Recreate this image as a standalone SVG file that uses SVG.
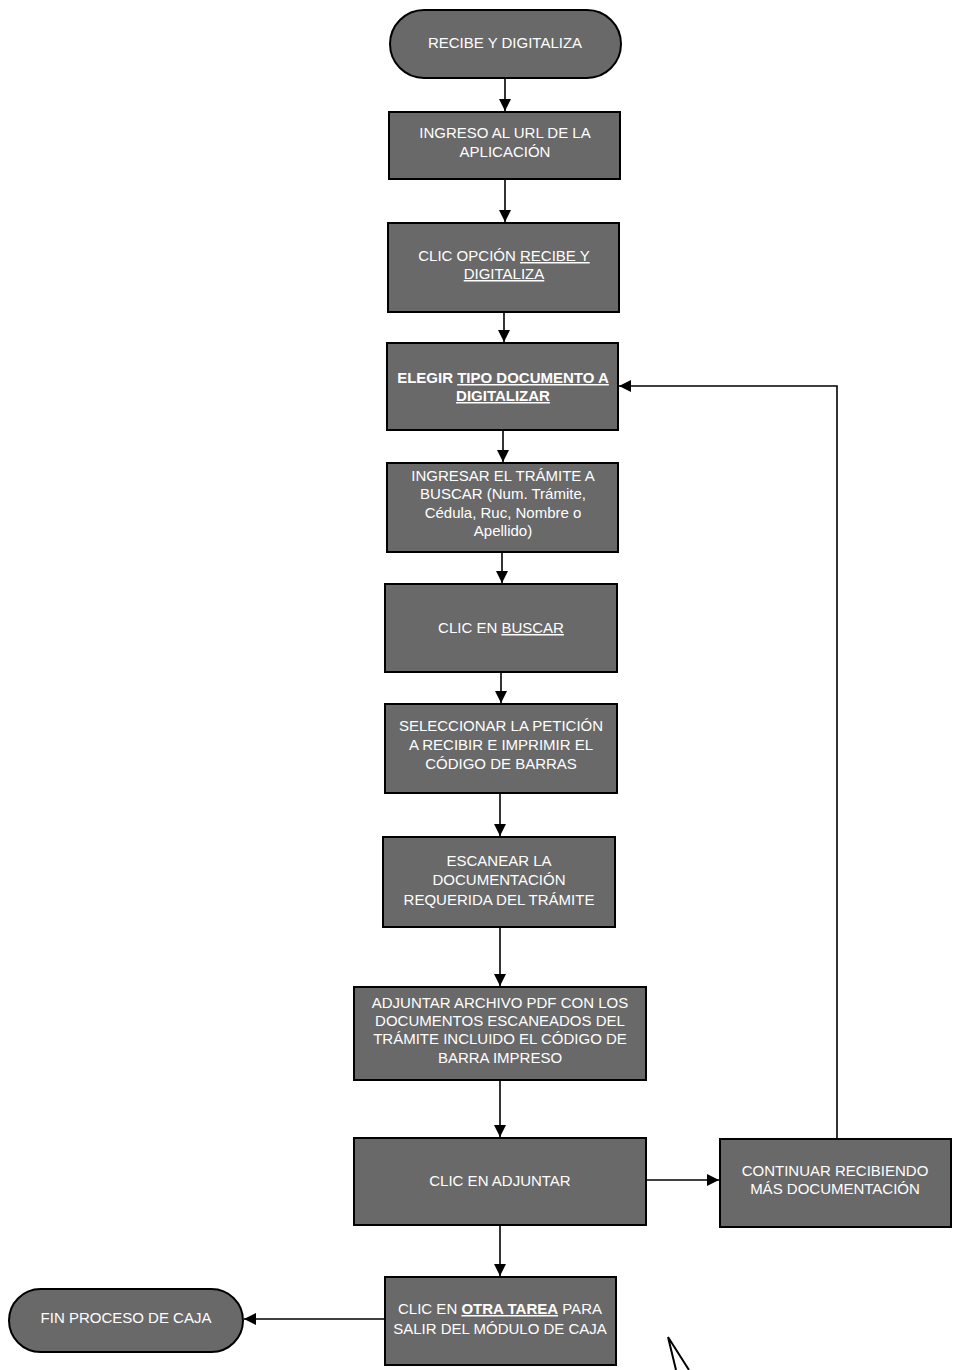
<svg xmlns="http://www.w3.org/2000/svg" width="953" height="1370" viewBox="0 0 953 1370">
<defs>
<style>
.box{fill:#696969;stroke:#000;stroke-width:2}
.t{font-family:"Liberation Sans",Arial,sans-serif;font-size:15px;fill:#fff;text-anchor:middle}
.b{font-weight:bold}
.u{text-decoration:underline}
.c{fill:none;stroke:#000;stroke-width:1.6}
</style>
<marker id="ah" viewBox="0 0 12 12" refX="12" refY="6" markerWidth="12" markerHeight="12" markerUnits="userSpaceOnUse" orient="auto">
<path d="M0,0 L12,6 L0,12 Z" fill="#000"/>
</marker>
</defs>
<rect width="953" height="1370" fill="#fff"/>
<g id="connectors">
<line class="c" x1="505" y1="79" x2="505" y2="111" marker-end="url(#ah)"/>
<line class="c" x1="505" y1="180" x2="505" y2="222" marker-end="url(#ah)"/>
<line class="c" x1="504" y1="313" x2="504" y2="342" marker-end="url(#ah)"/>
<line class="c" x1="503" y1="431" x2="503" y2="462" marker-end="url(#ah)"/>
<line class="c" x1="502" y1="553" x2="502" y2="583" marker-end="url(#ah)"/>
<line class="c" x1="501" y1="673" x2="501" y2="703" marker-end="url(#ah)"/>
<line class="c" x1="500" y1="794" x2="500" y2="836" marker-end="url(#ah)"/>
<line class="c" x1="500" y1="928" x2="500" y2="986" marker-end="url(#ah)"/>
<line class="c" x1="500" y1="1081" x2="500" y2="1137" marker-end="url(#ah)"/>
<line class="c" x1="500" y1="1226" x2="500" y2="1276" marker-end="url(#ah)"/>
<line class="c" x1="647" y1="1180" x2="719" y2="1180" marker-end="url(#ah)"/>
<polyline class="c" points="837,1138 837,386 619,386" marker-end="url(#ah)"/>
<line class="c" x1="385" y1="1319" x2="244" y2="1319" marker-end="url(#ah)"/>
</g>
<g id="n1"><rect class="box" x="390" y="10" width="231" height="68" rx="34"/><text class="t" x="505" y="48">RECIBE Y DIGITALIZA</text></g>
<g id="n2"><rect class="box" x="389" y="112" width="231" height="67"/><text class="t" x="505" y="138">INGRESO AL URL DE LA</text><text class="t" x="505" y="157">APLICACIÓN</text></g>
<g id="n3"><rect class="box" x="388" y="223" width="231" height="89"/><text class="t" x="504" y="261">CLIC OPCIÓN <tspan class="u">RECIBE Y</tspan></text><text class="t u" x="504" y="279">DIGITALIZA</text></g>
<g id="n4"><rect class="box" x="387" y="343" width="231" height="87"/><text class="t b" x="503" y="383">ELEGIR <tspan class="u">TIPO DOCUMENTO A</tspan></text><text class="t b u" x="503" y="401">DIGITALIZAR</text></g>
<g id="n5"><rect class="box" x="387" y="463" width="231" height="89"/><text class="t" x="503" y="481">INGRESAR EL TRÁMITE A</text><text class="t" x="503" y="499">BUSCAR (Num. Trámite,</text><text class="t" x="503" y="518">Cédula, Ruc, Nombre o</text><text class="t" x="503" y="536">Apellido)</text></g>
<g id="n6"><rect class="box" x="385" y="584" width="232" height="88"/><text class="t" x="501" y="633">CLIC EN <tspan class="u">BUSCAR</tspan></text></g>
<g id="n7"><rect class="box" x="385" y="704" width="232" height="89"/><text class="t" x="501" y="731">SELECCIONAR LA PETICIÓN</text><text class="t" x="501" y="750">A RECIBIR E IMPRIMIR EL</text><text class="t" x="501" y="769">CÓDIGO DE BARRAS</text></g>
<g id="n8"><rect class="box" x="383" y="837" width="232" height="90"/><text class="t" x="499" y="866">ESCANEAR LA</text><text class="t" x="499" y="885">DOCUMENTACIÓN</text><text class="t" x="499" y="905">REQUERIDA DEL TRÁMITE</text></g>
<g id="n9"><rect class="box" x="354" y="987" width="292" height="93"/><text class="t" x="500" y="1008">ADJUNTAR ARCHIVO PDF CON LOS</text><text class="t" x="500" y="1026">DOCUMENTOS ESCANEADOS DEL</text><text class="t" x="500" y="1044">TRÁMITE INCLUIDO EL CÓDIGO DE</text><text class="t" x="500" y="1063">BARRA IMPRESO</text></g>
<g id="n10"><rect class="box" x="354" y="1138" width="292" height="87"/><text class="t" x="500" y="1186">CLIC EN ADJUNTAR</text></g>
<g id="n11"><rect class="box" x="720" y="1139" width="231" height="88"/><text class="t" x="835" y="1176">CONTINUAR RECIBIENDO</text><text class="t" x="835" y="1194">MÁS DOCUMENTACIÓN</text></g>
<g id="n12"><rect class="box" x="385" y="1277" width="231" height="88"/><text class="t" x="500" y="1314">CLIC EN <tspan class="u b">OTRA TAREA</tspan> PARA</text><text class="t" x="500" y="1334">SALIR DEL MÓDULO DE CAJA</text></g>
<g id="n13"><rect class="box" x="9" y="1289" width="234" height="63" rx="31.5"/><text class="t" x="126" y="1323">FIN PROCESO DE CAJA</text></g>
<path d="M668,1337 L676,1370 M668,1337 L689,1370" fill="none" stroke="#000" stroke-width="2"/>
</svg>
